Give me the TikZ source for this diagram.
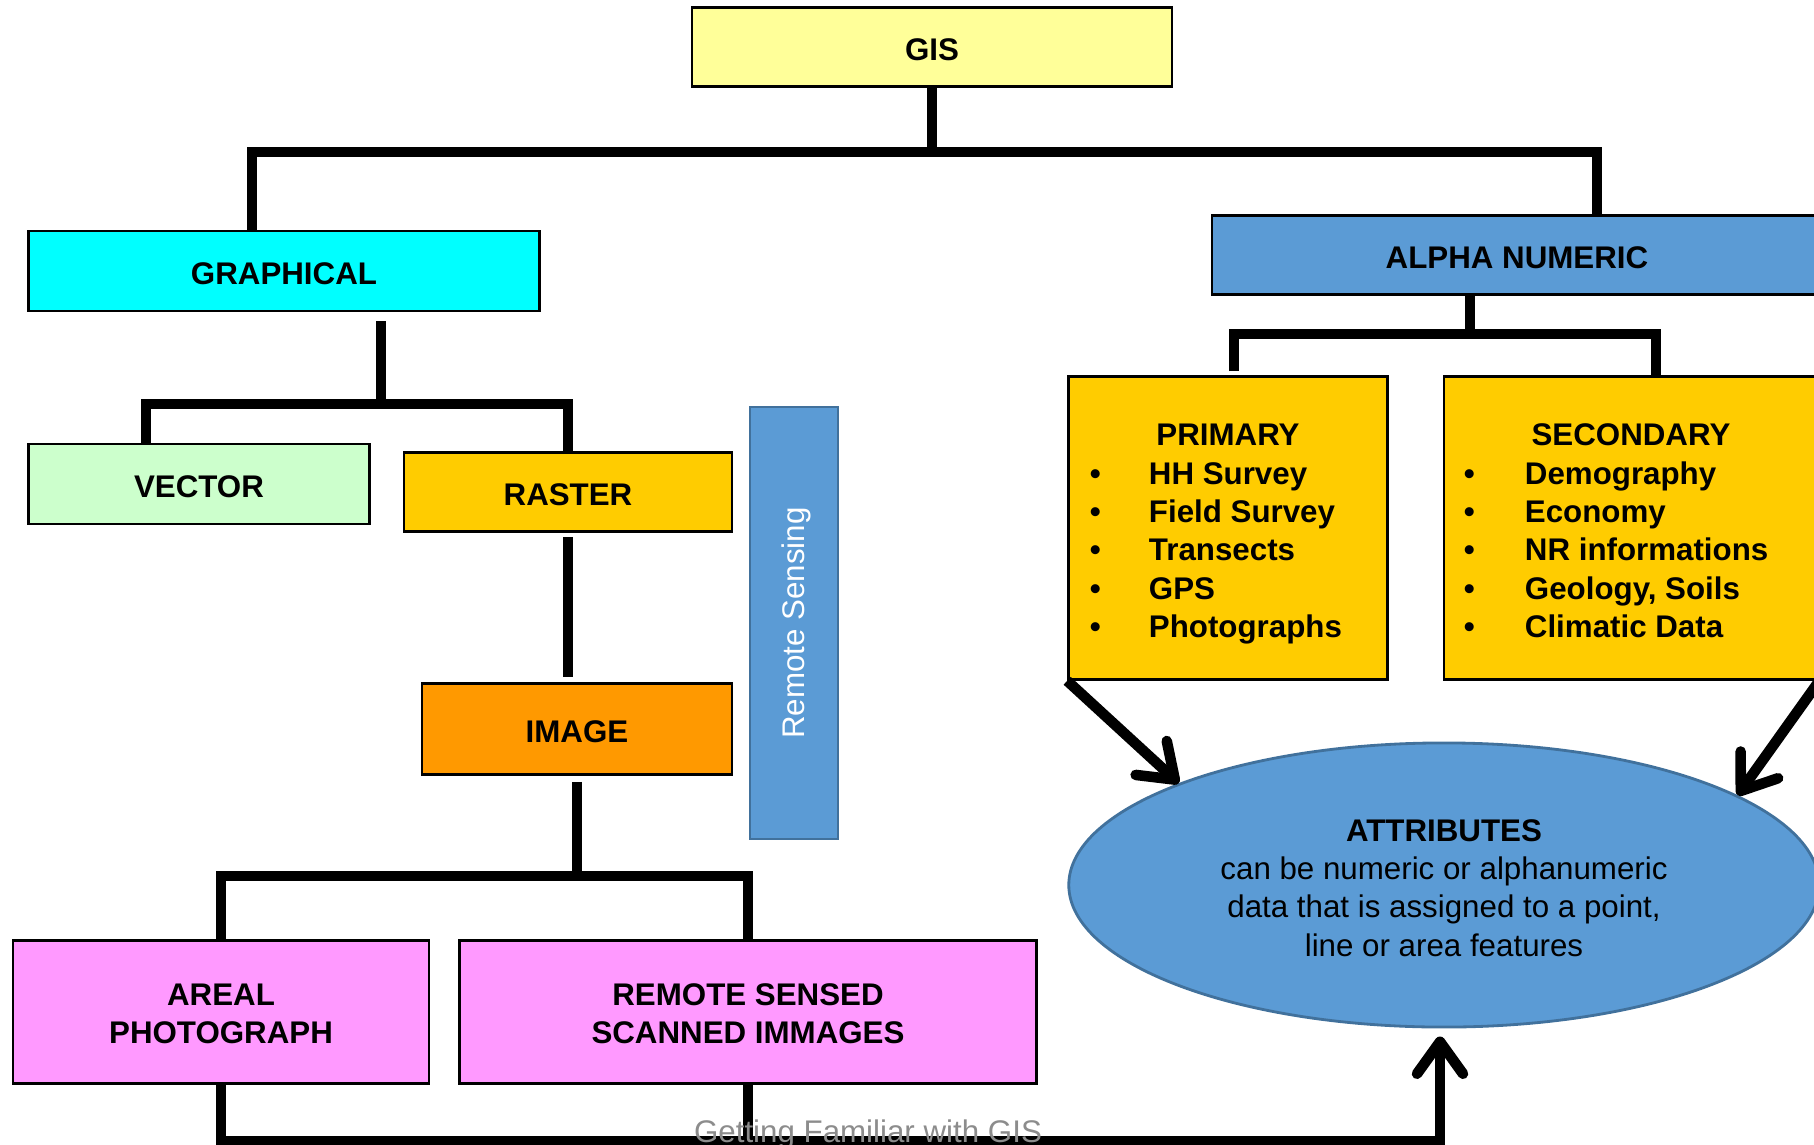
\documentclass[tikz,border=0pt]{standalone}
\usepackage{fontspec}
\setmainfont{Liberation Sans}
\usepackage{xcolor}
\usetikzlibrary{shapes.geometric,arrows.meta,calc}
\definecolor{gisyellow}{HTML}{FFFF99}
\definecolor{graphcyan}{HTML}{00FFFF}
\definecolor{vecgreen}{HTML}{CCFFCC}
\definecolor{rastergold}{HTML}{FFCC00}
\definecolor{imageorange}{HTML}{FF9900}
\definecolor{photopink}{HTML}{FF99FF}
\definecolor{alphablue}{HTML}{5B9BD5}
\definecolor{edgeblue}{HTML}{41719C}
\definecolor{footgray}{HTML}{8C8C8C}

\begin{document}
\begin{tikzpicture}[x=0.01cm,y=-0.01cm,
    txt/.style={font=\fontsize{8.9}{10.9}\selectfont},
    box/.style={draw,line width=0.7pt,rectangle,inner sep=0pt,align=center,
      font=\fontsize{8.9}{10.9}\selectfont\bfseries},
    oneline/.style={text height=7.7pt,text depth=0pt},
    bus/.style={line width=3pt},
    tip/.style={-{Straight Barb[round,length=0.32cm,width=0.46cm]}}]
      % Fix the page size
      \useasboundingbox (0,0) rectangle (1814,1145);
      % Top of the tree
      \node[box,oneline,fill=gisyellow,minimum width=4.8cm,minimum height=0.79cm] (gis) at (932,47) {GIS};
      \node[box,oneline,fill=graphcyan,minimum width=5.11cm,minimum height=0.8cm] (graph) at (284,271) {GRAPHICAL};
      \node[box,oneline,fill=alphablue,minimum width=6.1cm,minimum height=0.79cm] (alpha) at (1517,255) {ALPHA NUMERIC};
      % Graphical branch
      \node[box,oneline,fill=vecgreen,minimum width=3.41cm,minimum height=0.8cm] (vector) at (199,484) {VECTOR};
      \node[box,oneline,fill=rastergold,minimum width=3.28cm,minimum height=0.79cm] (raster) at (568,492) {RASTER};
      \node[box,oneline,fill=imageorange,minimum width=3.1cm,minimum height=0.91cm] (image) at (577,729) {IMAGE};
      \node[box,draw=edgeblue,fill=alphablue,text=white,txt,rotate=90,text height=7.7pt,text depth=1.7pt,
        minimum width=4.32cm,minimum height=0.88cm] (rsense) at (794,623) {Remote Sensing};
      \node[box,fill=photopink,minimum width=4.16cm,minimum height=1.43cm] (areal) at (221,1012)
        {\rule{0pt}{7.2pt}AREAL\\PHOTOGRAPH};
      \node[box,fill=photopink,minimum width=5.77cm,minimum height=1.43cm] (rsensed) at (748,1012)
        {\rule{0pt}{7.2pt}REMOTE SENSED\\SCANNED IMMAGES};
      % Alpha numeric branch
      \node[box,fill=rastergold,minimum width=3.19cm,minimum height=3.03cm] (primary) at (1228,528)
        {\begin{tabular}{@{}p{0.59cm}@{}p{2.17cm}@{}}
          \multicolumn{2}{@{}c@{}}{\rule{0pt}{11pt}PRIMARY}\\
          \textbullet & HH Survey\\
          \textbullet & Field Survey\\
          \textbullet & Transects\\
          \textbullet & GPS\\
          \textbullet & Photographs
        \end{tabular}};
      \node[box,fill=rastergold,minimum width=3.74cm,minimum height=3.03cm] (secondary) at (1631,528)
        {\begin{tabular}{@{}p{0.61cm}@{}p{2.73cm}@{}}
          \multicolumn{2}{@{}c@{}}{\rule{0pt}{11pt}SECONDARY}\\
          \textbullet & Demography\\
          \textbullet & Economy\\
          \textbullet & NR informations\\
          \textbullet & Geology, Soils\\
          \textbullet & Climatic Data
        \end{tabular}};
      \node[ellipse,draw=edgeblue,line width=0.8pt,fill=alphablue,minimum width=7.5cm,
        minimum height=2.84cm,inner sep=0pt,align=center,txt] (attr) at (1444,885)
        {\rule{0pt}{7.8pt}\textbf{ATTRIBUTES}\\can be numeric or alphanumeric\\data that is assigned to a point,\\line or area features};
      % Fork points of the connectors
      \coordinate (gisfork) at (929,152);
      \coordinate (graphfork) at (381,404);
      \coordinate (alphafork) at (1470,334);
      \coordinate (imagefork) at (577,876);
      \coordinate (attrbase) at (1440,1141);
      % Draw the connectors
      \draw[bus] (gis) -- (gis |- gisfork);
      \draw[bus] ($(graph.north)+(-32,0)$) |- (gisfork) -| ($(alpha.north)+(80,0)$);
      \draw[bus,shorten <=0.09cm] (graph.south -| graphfork) -- (graphfork);
      \draw[bus] ($(vector.north)+(-53,0)$) |- (graphfork) -| (raster.north);
      \draw[bus,shorten <=0.04cm,shorten >=0.05cm] (raster.south) -- (raster.south |- image.north);
      \draw[bus,shorten <=0.06cm] (image.south) -- (imagefork);
      \draw[bus] (areal.north) |- (imagefork) -| (rsensed.north);
      \draw[bus] (alpha.south -| alphafork) -- (alphafork);
      \draw[bus] ($(primary.north)+(6,-4)$) |- (alphafork) -| ($(secondary.north)+(25,0)$);
      % Arrows into the attributes
      \draw[bus] (rsensed.south) -- (rsensed.south |- attrbase);
      \draw[bus,tip,shorten >=0.08cm] (areal.south) |- (attrbase) -- (attr.south -| attrbase);
      \draw[bus,tip] (primary.south west) -- (attr.159);
      \draw[bus,tip] (secondary.south east) -- (attr.17);
      % Footer
      \node[anchor=base,text=footgray,txt] (footer) at (868,1142) {Getting Familiar with GIS};
\end{tikzpicture}
\end{document}
